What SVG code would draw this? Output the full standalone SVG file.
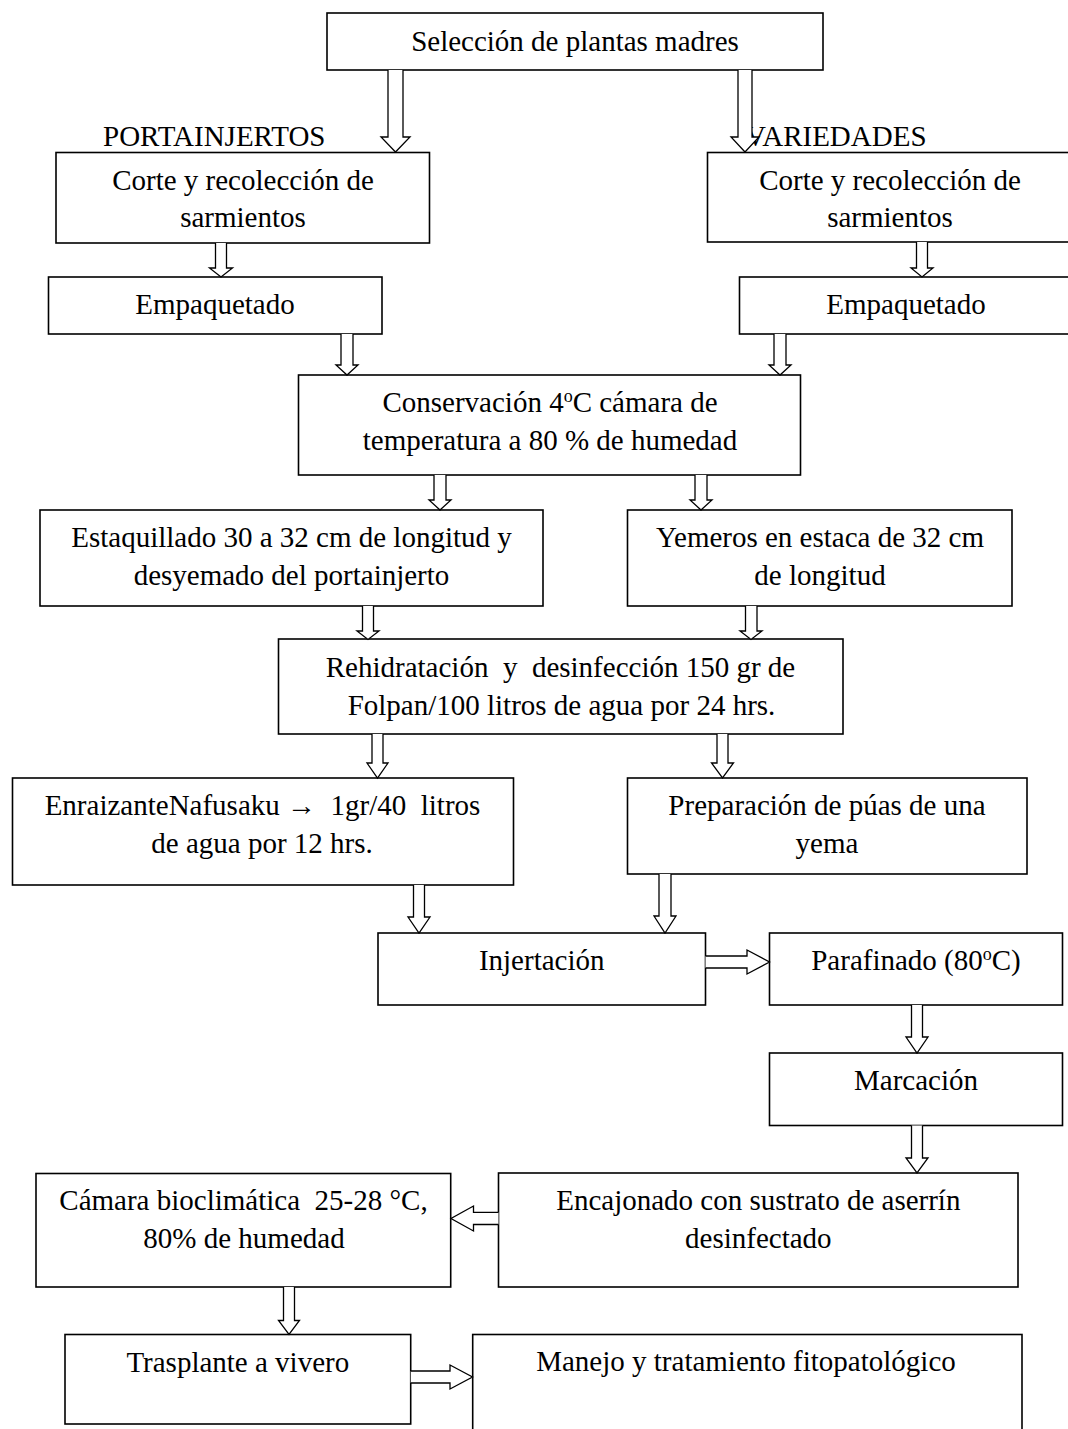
<svg xmlns="http://www.w3.org/2000/svg" width="1068" height="1429" viewBox="0 0 1068 1429">
<style>
  .box { fill: #ffffff; stroke: #000000; stroke-width: 1.6; }
  .arr { fill: #ffffff; stroke: #000000; stroke-width: 1.3; stroke-linejoin: miter; }
  text { font-family: "Liberation Serif", "Times New Roman", serif; font-size: 29px; fill: #000000; }
  .c { text-anchor: middle; }
  .sup { font-size: 18px; }
</style>
<rect x="0" y="0" width="1068" height="1429" fill="#ffffff"/>

<g id="labels">
  <text x="103" y="146">PORTAINJERTOS</text>
  <text x="745" y="146">VARIEDADES</text>
</g>

<g id="n-seleccion">
  <rect class="box" x="327" y="13" width="496" height="57"/>
  <text class="c" x="575" y="51">Selección de plantas madres</text>
</g>
<g id="n-corte-port">
  <rect class="box" x="56" y="152.5" width="373.5" height="90.5"/>
  <text class="c" x="243" y="190">Corte y recolección de</text>
  <text class="c" x="243" y="227">sarmientos</text>
</g>
<g id="n-corte-var">
  <rect class="box" x="707.5" y="152.5" width="366" height="89.5"/>
  <text class="c" x="890" y="190">Corte y recolección de</text>
  <text class="c" x="890" y="227">sarmientos</text>
</g>
<g id="n-empaq-port">
  <rect class="box" x="48.5" y="277" width="333.5" height="57"/>
  <text class="c" x="215" y="314">Empaquetado</text>
</g>
<g id="n-empaq-var">
  <rect class="box" x="739.5" y="277" width="334" height="57"/>
  <text class="c" x="906" y="314">Empaquetado</text>
</g>
<g id="n-conservacion">
  <rect class="box" x="298.5" y="375" width="502" height="100"/>
  <text class="c" x="550" y="412">Conservación 4<tspan class="sup" dy="-10">o</tspan><tspan dy="10">C cámara de</tspan></text>
  <text class="c" x="550" y="450">temperatura a 80 % de humedad</text>
</g>
<g id="n-estaquillado">
  <rect class="box" x="40" y="510" width="503" height="96"/>
  <text class="c" x="291.5" y="547">Estaquillado 30 a 32 cm de longitud y</text>
  <text class="c" x="291.5" y="585">desyemado del portainjerto</text>
</g>
<g id="n-yemeros">
  <rect class="box" x="627.5" y="510" width="384.5" height="96"/>
  <text class="c" x="820" y="547">Yemeros en estaca de 32 cm</text>
  <text class="c" x="820" y="585">de longitud</text>
</g>
<g id="n-rehidratacion">
  <rect class="box" x="278.5" y="639" width="564.5" height="95"/>
  <text class="c" x="560.5" y="677" xml:space="preserve">Rehidratación  y  desinfección 150 gr de</text>
  <text class="c" x="561.5" y="714.5">Folpan/100 litros de agua por 24 hrs.</text>
</g>
<g id="n-enraizante">
  <rect class="box" x="12.5" y="778" width="501" height="107"/>
  <text class="c" x="262.5" y="815" xml:space="preserve">EnraizanteNafusaku →  1gr/40  litros</text>
  <text class="c" x="262" y="853">de agua por 12 hrs.</text>
</g>
<g id="n-preparacion">
  <rect class="box" x="627.5" y="778" width="399.5" height="96"/>
  <text class="c" x="827" y="815">Preparación de púas de una</text>
  <text class="c" x="827" y="853">yema</text>
</g>
<g id="n-injertacion">
  <rect class="box" x="378" y="933" width="327.5" height="72"/>
  <text class="c" x="541.7" y="970">Injertación</text>
</g>
<g id="n-parafinado">
  <rect class="box" x="769.5" y="933" width="293" height="72"/>
  <text class="c" x="916" y="970">Parafinado (80<tspan class="sup" dy="-10">o</tspan><tspan dy="10">C)</tspan></text>
</g>
<g id="n-marcacion">
  <rect class="box" x="769.5" y="1053" width="293" height="72.5"/>
  <text class="c" x="916" y="1090">Marcación</text>
</g>
<g id="n-encajonado">
  <rect class="box" x="498.5" y="1173" width="519.5" height="114"/>
  <text class="c" x="758.3" y="1210">Encajonado con sustrato de aserrín</text>
  <text class="c" x="758.3" y="1248">desinfectado</text>
</g>
<g id="n-camara">
  <rect class="box" x="36" y="1173.5" width="414.7" height="113.5"/>
  <text class="c" x="243.5" y="1210" xml:space="preserve">Cámara bioclimática  25-28 °C,</text>
  <text class="c" x="244" y="1248">80% de humedad</text>
</g>
<g id="n-trasplante">
  <rect class="box" x="65" y="1334.5" width="345.7" height="89.5"/>
  <text class="c" x="237.8" y="1372">Trasplante a vivero</text>
</g>
<g id="n-manejo">
  <rect class="box" x="472.7" y="1334.5" width="549.3" height="110"/>
  <text class="c" x="746" y="1371">Manejo y tratamiento fitopatológico</text>
</g>

<g id="connectors">
  <path class="arr" d="M388 70 V137 H381 L395.5 152 L410 137 H403 V70"/>
  <path class="arr" d="M738 70 V137 H731 L745 152 L759 137 H752 V70"/>
  <path class="arr" d="M215.5 243 V268 H209.5 L221 277 L232.5 268 H226.5 V243"/>
  <path class="arr" d="M916.5 242 V268 H911 L922 277 L933 268 H927.5 V242"/>
  <path class="arr" d="M341 334 V365 H336 L347 375 L358 365 H353 V334"/>
  <path class="arr" d="M774 334 V365 H769 L780 375 L791 365 H786 V334"/>
  <path class="arr" d="M434 475 V500 H429 L440 510 L451 500 H446 V475"/>
  <path class="arr" d="M695 475 V500 H690 L701 510 L712 500 H707 V475"/>
  <path class="arr" d="M362.5 606 V631 H357 L368 639.5 L379 631 H373.5 V606"/>
  <path class="arr" d="M745.5 606 V631 H740 L751 639.5 L762 631 H757 V606"/>
  <path class="arr" d="M372 734 V763 H367 L377.5 778 L388 763 H383 V734"/>
  <path class="arr" d="M717 734 V763 H711.5 L722.5 778 L733.5 763 H728 V734"/>
  <path class="arr" d="M413.5 885 V917 H408 L419 933 L430 917 H424.5 V885"/>
  <path class="arr" d="M659 874 V916 H654 L665 933 L676 916 H671 V874"/>
  <path class="arr" d="M705.5 956 H747 V950 L769.5 962 L747 974 V968 H705.5"/>
  <path class="arr" d="M911.5 1005 V1037 H906 L917 1053 L928 1037 H922.5 V1005"/>
  <path class="arr" d="M911.5 1125.5 V1158 H906 L917 1173 L928 1158 H922.5 V1125.5"/>
  <path class="arr" d="M498.5 1212.3 H473.5 V1206 L451 1218.5 L473.5 1231 V1224.5 H498.5"/>
  <path class="arr" d="M283.5 1287 V1320.5 H278.5 L289 1334.5 L299.5 1320.5 H294.5 V1287"/>
  <path class="arr" d="M410.7 1371 H450 V1365 L472.5 1377 L450 1389 V1383 H410.7"/>
</g>
</svg>
